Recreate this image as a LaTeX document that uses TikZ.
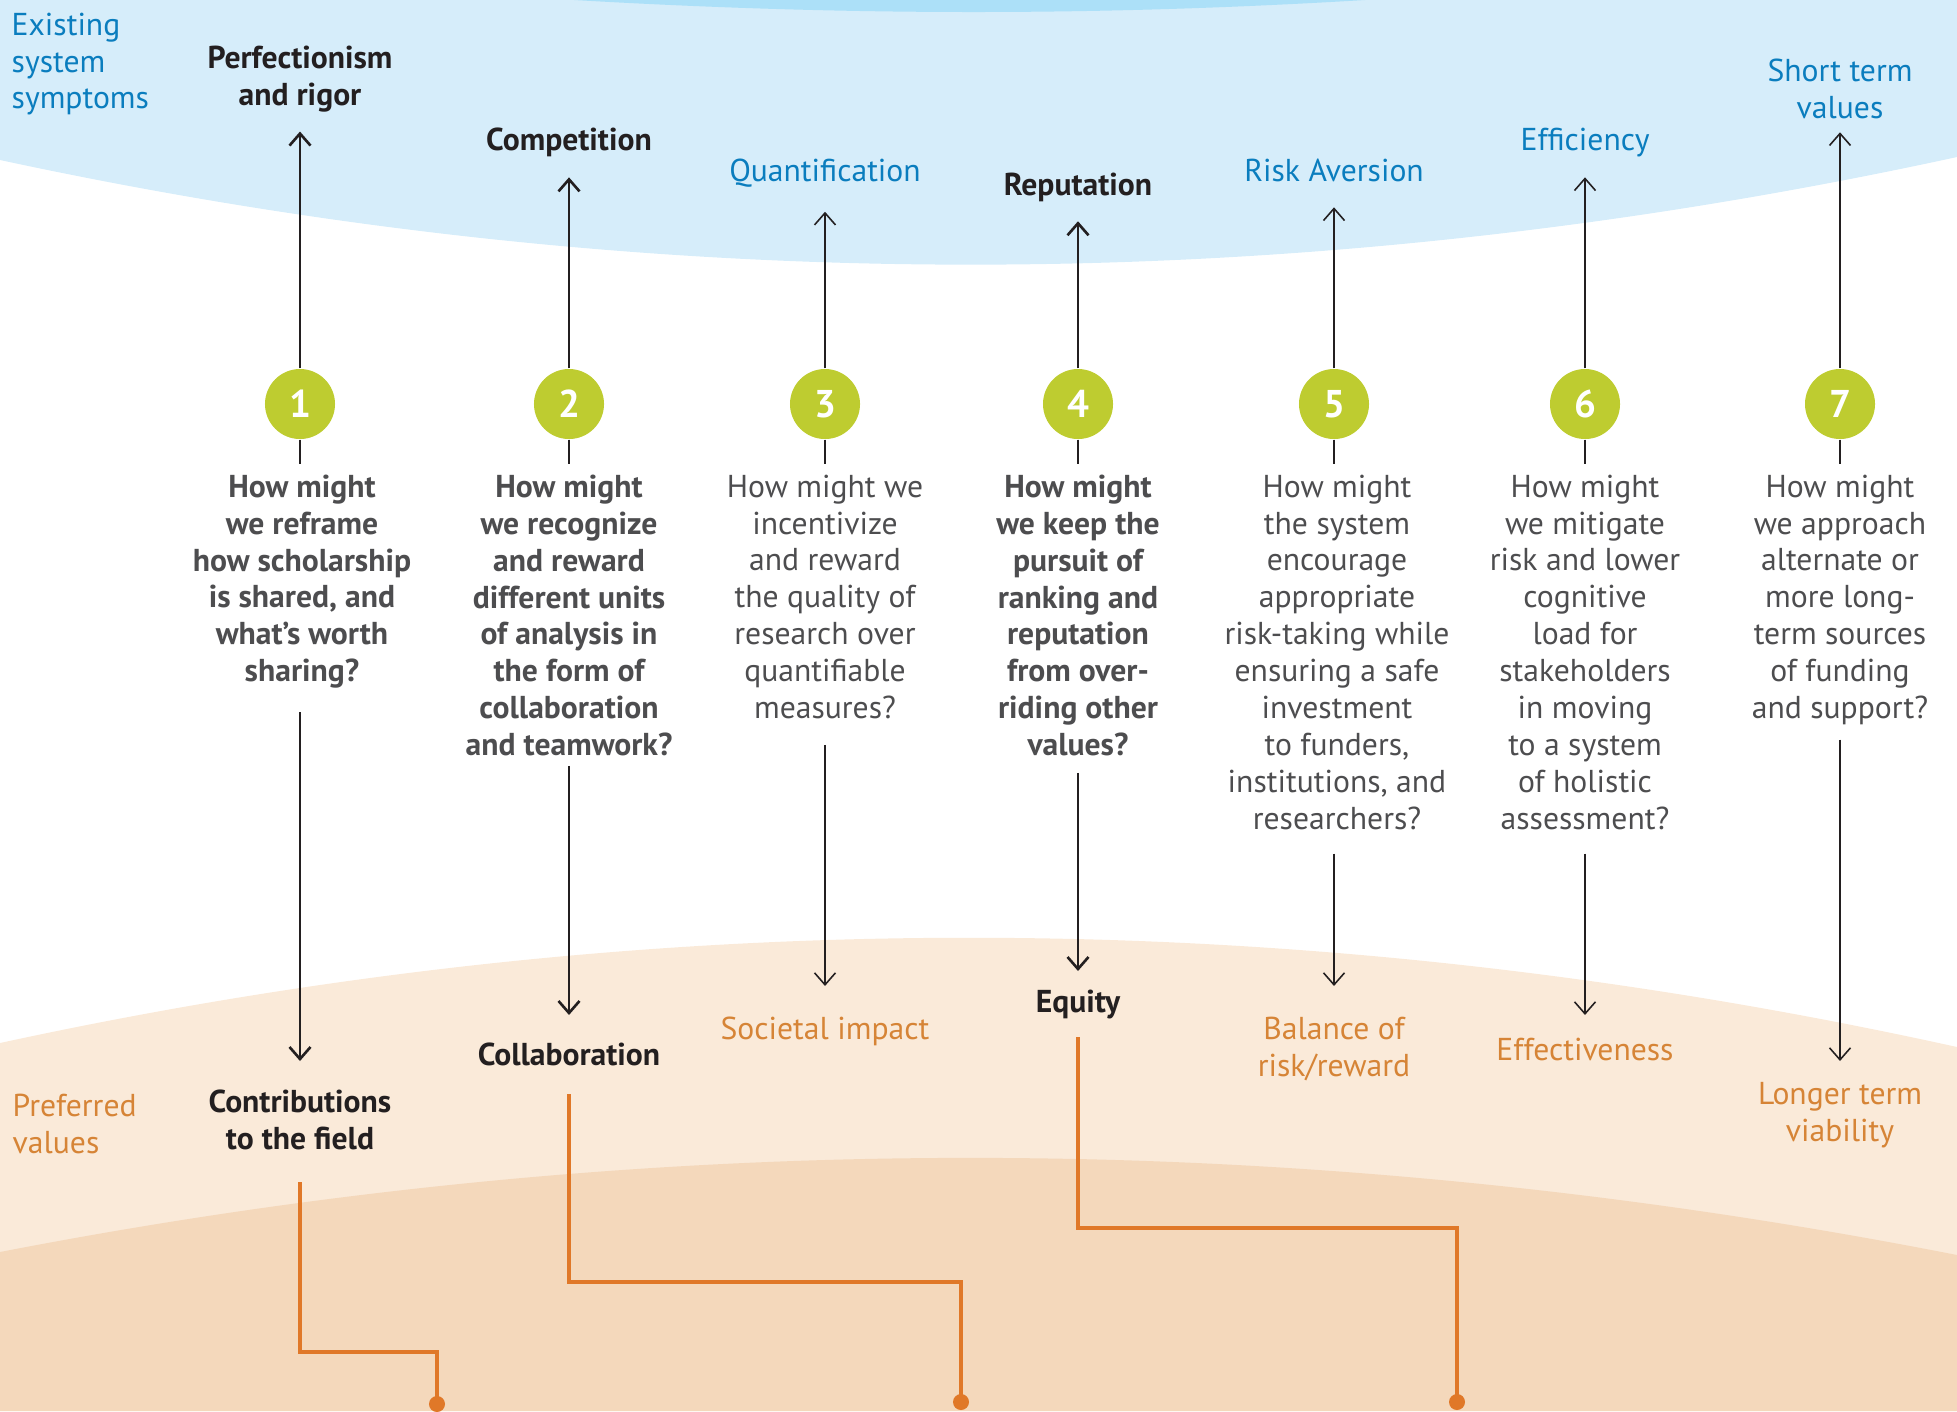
\documentclass[tikz,border=0pt]{standalone}
\usepackage{fontspec}
\setmainfont{PT Sans}
\usetikzlibrary{arrows.meta}

\definecolor{ink}{RGB}{35,31,32}
\definecolor{qgray}{RGB}{77,77,79}
\definecolor{numgreen}{RGB}{190,204,48}
\definecolor{sympblue}{RGB}{10,125,190}
\definecolor{preftext}{RGB}{214,132,54}
\definecolor{prefline}{RGB}{224,120,40}
\definecolor{skylight}{RGB}{214,237,250}
\definecolor{skydark}{RGB}{172,224,248}
\definecolor{peachlight}{RGB}{250,234,217}
\definecolor{peachdark}{RGB}{244,216,187}

\begin{document}
\begin{tikzpicture}[x=0.01cm, y=-0.01cm,
  every node/.style = {inner sep=0pt, align=center,
    font=\fontsize{9}{10.5}\selectfont},
  symptom/.style = {text=sympblue},
  keysymptom/.style = {text=ink, font=\fontsize{9}{10.5}\selectfont\bfseries},
  number/.style = {circle, fill=numgreen, minimum size=0.7cm,
    text=white, font=\fontsize{11}{13}\selectfont\bfseries},
  question/.style = {anchor=north, text=qgray},
  keyquestion/.style = {question, font=\fontsize{9}{10.5}\selectfont\bfseries},
  preferred/.style = {anchor=north, text=preftext},
  keypreferred/.style = {anchor=north, text=ink,
    font=\fontsize{9}{10.5}\selectfont\bfseries},
  keyline/.style = {draw=ink, line width=0.75pt},
  plainline/.style = {draw=ink, line width=0.45pt},
  barb/.style = {-{Straight Barb[length=0.12cm, width=0.21cm]}},
  orangepath/.style = {draw=prefline, line width=1.3pt}]

  \useasboundingbox (0,0) rectangle (1957,1411);

  % background bands
  \fill[skylight] (0,0) -- (0,160) .. controls (650,300) and (1300,300) .. (1957,157)
    -- (1957,0) -- cycle;
  \fill[skydark] (574,0) .. controls (850,16) and (1100,16) .. (1365,0) -- cycle;
  \fill[peachlight] (0,1043) .. controls (650,902) and (1300,902) .. (1957,1047)
    -- (1957,1411) -- (0,1411) -- cycle;
  \fill[peachdark] (0,1252) .. controls (650,1126) and (1300,1126) .. (1957,1255)
    -- (1957,1411) -- (0,1411) -- cycle;

  % side captions
  \node[symptom, anchor=north west, align=left] (existing) at (11,12)
    {Existing\\system\\symptoms};
  \node[preferred, anchor=north west, align=left] (prefvalues) at (12,1093)
    {Preferred\\values};

  % existing system symptoms
  \node[keysymptom, anchor=north] (s1) at (300,45) {Perfectionism\\and rigor};
  \node[keysymptom, anchor=north] (s2) at (569,127) {Competition};
  \node[symptom, anchor=north] (s3) at (825,158) {Quantification};
  \node[keysymptom, anchor=north] (s4) at (1078,172) {Reputation};
  \node[symptom, anchor=north] (s5) at (1334,158) {Risk Aversion};
  \node[symptom, anchor=north] (s6) at (1585,127) {Efficiency};
  \node[symptom, anchor=north] (s7) at (1840,58) {Short term\\values};

  % numbered questions
  \node[number] (n1) at (300,404) {1};
  \node[number] (n2) at (569,404) {2};
  \node[number] (n3) at (825,404) {3};
  \node[number] (n4) at (1078,404) {4};
  \node[number] (n5) at (1334,404) {5};
  \node[number] (n6) at (1585,404) {6};
  \node[number] (n7) at (1840,404) {7};

  \node[keyquestion] (q1) at (302,474) {How might\\we reframe\\how scholarship\\is shared, and\\what’s worth\\sharing?};
  \node[keyquestion] (q2) at (569,474) {How might\\we recognize\\and reward\\different units\\of analysis in\\the form of\\collaboration\\and teamwork?};
  \node[question] (q3) at (825,474) {How might we\\incentivize\\and reward\\the quality of\\research over\\quantifiable\\measures?};
  \node[keyquestion] (q4) at (1078,474) {How might\\we keep the\\pursuit of\\ranking and\\reputation\\from over-\\riding other\\values?};
  \node[question] (q5) at (1337,474) {How might\\the system\\encourage\\appropriate\\risk-taking while\\ensuring a safe\\investment\\to funders,\\institutions, and\\researchers?};
  \node[question] (q6) at (1585,474) {How might\\we mitigate\\risk and lower\\cognitive\\load for\\stakeholders\\in moving\\to a system\\of holistic\\assessment?};
  \node[question] (q7) at (1840,474) {How might\\we approach\\alternate or\\more long-\\term sources\\of funding\\and support?};

  % preferred values
  \node[keypreferred] (v1) at (300,1089) {Contributions\\to the field};
  \node[keypreferred] (v2) at (569,1042) {Collaboration};
  \node[preferred] (v3) at (825,1016) {Societal impact};
  \node[keypreferred] (v4) at (1078,989) {Equity};
  \node[preferred] (v5) at (1334,1016) {Balance of\\risk/reward};
  \node[preferred] (v6) at (1585,1037) {Effectiveness};
  \node[preferred] (v7) at (1840,1082) {Longer term\\viability};

  % ends of the orange leads
  \coordinate (bend1) at (437,1352);
  \coordinate (dot1) at (437,1404);
  \coordinate (bend2) at (961,1282);
  \coordinate (dot2) at (961,1402);
  \coordinate (bend4) at (1457,1228);
  \coordinate (dot4) at (1457,1402);

  % up to the symptoms
  \draw[keyline, barb, shorten >=0.19cm] (n1) -- (s1);
  \draw[keyline, barb, shorten >=0.2cm] (n2) -- (s2);
  \draw[plainline, barb, shorten >=0.24cm] (n3) -- (s3);
  \draw[keyline, barb, shorten >=0.19cm] (n4) -- (s4);
  \draw[plainline, barb, shorten >=0.25cm] (n5) -- (s5);
  \draw[plainline, barb, shorten >=0.2cm] (n6) -- (s6);
  \draw[plainline, barb, shorten >=0.13cm] (n7) -- (s7);

  % down to the questions
  \draw[keyline, shorten >=0.1cm] (n1) -- (q1.north -| n1);
  \draw[keyline, shorten >=0.1cm] (n2) -- (q2);
  \draw[plainline, shorten >=0.1cm] (n3) -- (q3);
  \draw[keyline, shorten >=0.1cm] (n4) -- (q4);
  \draw[plainline, shorten >=0.1cm] (n5) -- (q5.north -| n5);
  \draw[plainline, shorten >=0.1cm] (n6) -- (q6);
  \draw[plainline, shorten >=0.1cm] (n7) -- (q7);

  % down to the values
  \draw[keyline, barb, shorten <=0.23cm, shorten >=0.28cm] (q1.south -| v1) -- (v1);
  \draw[keyline, barb, shorten <=0.09cm, shorten >=0.27cm] (q2) -- (v2);
  \draw[plainline, barb, shorten <=0.25cm, shorten >=0.3cm] (q3) -- (v3);
  \draw[keyline, barb, shorten <=0.16cm, shorten >=0.18cm] (q4) -- (v4);
  \draw[plainline, barb, shorten <=0.23cm, shorten >=0.3cm] (q5.south -| v5) -- (v5);
  \draw[plainline, barb, shorten <=0.23cm, shorten >=0.22cm] (q6) -- (v6);
  \draw[plainline, barb, shorten <=0.14cm, shorten >=0.21cm] (q7) -- (v7);

  % orange leads
  \draw[orangepath, shorten <=0.32cm] (v1) |- (bend1) -- (dot1);
  \draw[orangepath, shorten <=0.28cm] (v2) |- (bend2) -- (dot2);
  \draw[orangepath, shorten <=0.18cm] (v4) |- (bend4) -- (dot4);
  \fill[prefline] (dot1) circle (0.08cm);
  \fill[prefline] (dot2) circle (0.08cm);
  \fill[prefline] (dot4) circle (0.08cm);
\end{tikzpicture}
\end{document}
